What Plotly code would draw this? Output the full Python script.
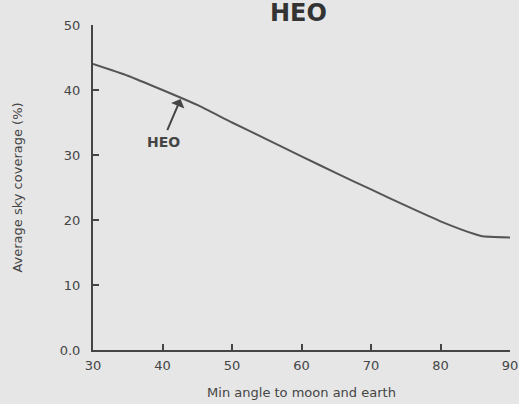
import plotly.graph_objects as go

angle = [30, 35, 40, 45, 50, 55, 60, 65, 70, 75, 80, 85, 86, 90]
coverage = [44.0, 42.2, 40.0, 37.7, 35.0, 32.4, 29.8, 27.2, 24.7, 22.2, 19.8, 17.8, 17.5, 17.3]

x_ticks = [30, 40, 50, 60, 70, 80, 90]
y_ticks = [0, 10, 20, 30, 40, 50]
y_tick_text = ["0.0", "10", "20", "30", "40", "50"]

ink = "#454545"
fig = go.Figure()
fig.add_trace(go.Scatter(x=angle, y=coverage, mode="lines",
                         line=dict(color="#555555", width=2, shape="spline", smoothing=0.4),
                         showlegend=False, hoverinfo="skip"))

fig.add_annotation(x=42.6, y=38.6, ax=40.6, ay=33.6, axref="x", ayref="y",
                   text="", showarrow=True, arrowhead=1, arrowsize=1.2,
                   arrowwidth=2, arrowcolor=ink)
fig.add_annotation(x=40.2, y=32.0, text="<b>HEO</b>", showarrow=False,
                   font=dict(family="DejaVu Sans", size=14, color=ink))

fig.update_layout(
    width=519, height=404,
    margin=dict(l=93, r=9, t=25, b=54),
    paper_bgcolor="#e6e6e6", plot_bgcolor="#e6e6e6",
    title=dict(text="<b>HEO</b>", x=0.575, xanchor="center", y=0.97, yanchor="middle",
               font=dict(family="DejaVu Sans", size=24, color="#333333")),
    xaxis=dict(range=[30, 90], tickvals=x_ticks, ticks="inside", ticklen=6,
               tickcolor=ink, tickwidth=1.5, showline=True, linecolor=ink, linewidth=2,
               showgrid=False, zeroline=False, automargin=False,
               ticklabelstandoff=2,
               tickfont=dict(family="DejaVu Sans", size=13, color=ink),
               title=dict(text="Min angle to moon and earth", standoff=16,
                          font=dict(family="DejaVu Sans", size=13, color=ink))),
    yaxis=dict(range=[0, 50], tickvals=y_ticks, ticktext=y_tick_text, ticks="inside",
               ticklen=6, tickcolor=ink, tickwidth=1.5, showline=True, linecolor=ink,
               linewidth=2, showgrid=False, zeroline=False, automargin=False,
               ticklabelstandoff=8,
               tickfont=dict(family="DejaVu Sans", size=13, color=ink),
               title=dict(text="Average sky coverage (%)", standoff=34,
                          font=dict(family="DejaVu Sans", size=13, color=ink))),
)

fig.write_html("out.html", config={"displayModeBar": False},
               post_script="document.body.style.margin='0';document.body.style.overflow='hidden';")
